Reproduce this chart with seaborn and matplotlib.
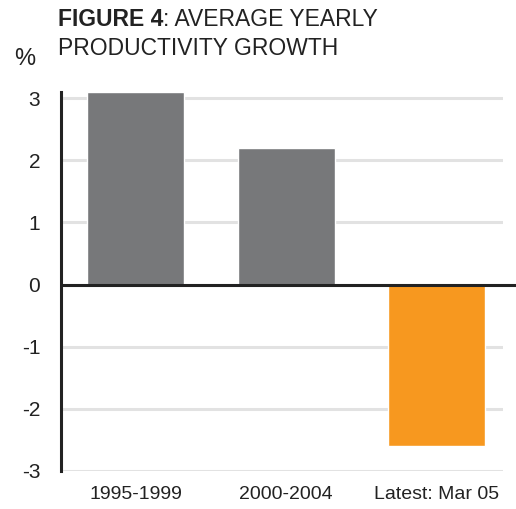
import matplotlib
matplotlib.use("Agg")
import matplotlib.pyplot as plt
import seaborn as sns
import pandas as pd

categories = ["1995-1999", "2000-2004", "Latest: Mar 05"]
values = [3.1, 2.2, -2.6]
bar_colors = ["#77787a", "#77787a", "#f7981f"]
yticks = [-3, -2, -1, 0, 1, 2, 3]

sns.set_theme(style="white")
plt.rcParams["font.family"] = ["Liberation Sans", "DejaVu Sans"]

W, H = 516, 509
fig = plt.figure(figsize=(W / 100, H / 100), dpi=100)
ax = fig.add_axes([61 / W, 1 - 471 / H, (503 - 61) / W, (471 - 92) / H])

df = pd.DataFrame({"cat": categories, "val": values})
sns.barplot(data=df, x="cat", y="val", hue="cat", palette=bar_colors,
            width=0.645, legend=False, ax=ax, saturation=1, zorder=3)

ax.set_xlim(-0.495, 2.44)
ax.set_ylim(-3, 3.1)
ax.set_yticks(yticks)
ax.set_yticklabels([str(t) for t in yticks])
for t in yticks:
    if t != 0:
        ax.axhline(t, color="#e2e2e2", lw=2.2, zorder=1)
ax.plot([0, 1.03], [0, 0], transform=ax.get_yaxis_transform(), color="#222222",
        lw=2.2, clip_on=False, zorder=4)

for s in ["top", "right", "bottom"]:
    ax.spines[s].set_visible(False)
ax.spines["left"].set_color("#222222")
ax.spines["left"].set_linewidth(2.2)
ax.spines["left"].set_zorder(5)
ax.tick_params(axis="y", length=0, labelsize=15, colors="#222222", pad=15)
ax.tick_params(axis="x", length=0, labelsize=14, colors="#222222", pad=11)
ax.set_xlabel("")
ax.set_ylabel("")

# Title
renderer = fig.canvas.get_renderer()
t1 = fig.text(58 / W, 1 - 26 / H, "FIGURE 4", fontsize=16.5, fontweight="bold",
              color="#222222", va="baseline", ha="left")
bb = t1.get_window_extent(renderer)
fig.text(bb.x1 / W, 1 - 26 / H, ": AVERAGE YEARLY", fontsize=16.5,
         color="#222222", va="baseline", ha="left")
fig.text(58 / W, 1 - 55 / H, "PRODUCTIVITY GROWTH", fontsize=16.5,
         color="#222222", va="baseline", ha="left")
fig.text(14 / W, 1 - 65 / H, "%", fontsize=17, color="#222222",
         va="baseline", ha="left")

fig.savefig("out.png", dpi=100)
